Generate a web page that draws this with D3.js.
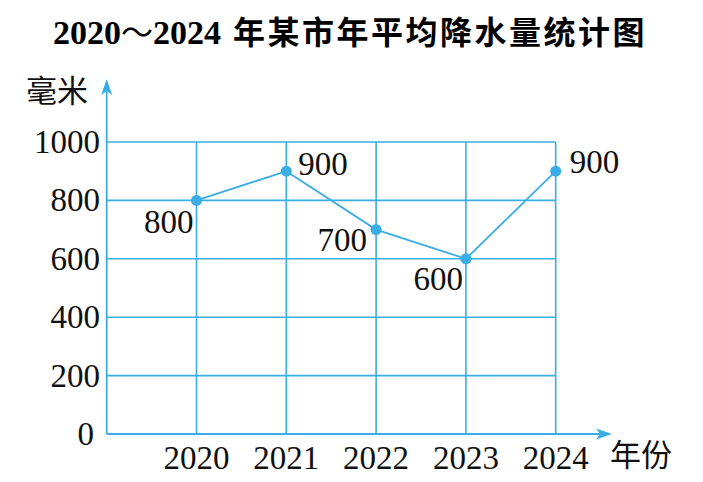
<!DOCTYPE html>
<html lang="zh">
<head>
  <meta charset="UTF-8">
  <title>2020～2024 年某市年平均降水量统计图</title>
  <script src="https://d3js.org/d3.v7.min.js"></script>
  <style>
    body { margin: 0; background: #fff; }
    .num { font-family: "Liberation Serif", "Times New Roman", serif; font-size: 33px; fill: #111; }
    .cjk { font-family: "Noto Sans CJK SC", sans-serif; font-size: 31px; fill: #111; }
  </style>
</head>
<body>
  <svg id="svg" width="703" height="482"></svg>
  <script>
    const years = ["2020", "2021", "2022", "2023", "2024"];
    const rainfall = [800, 900, 700, 600, 900];
    const yTicks = [0, 200, 400, 600, 800, 1000];
    const titleParts = ["2020", "～", "2024", "年某市年平均降水量统计图"];
    const yLabel = "毫米";
    const xLabel = "年份";

    const blue = "#38ade6";
    const svg = d3.select("#svg");

    // index -1 is the y axis, so each year sits one step to the right
    const x = d3.scaleLinear().domain([-1, years.length - 1]).range([106.7, 555.7]);
    const y = d3.scaleLinear().domain([0, 1000]).range([434, 142]);

    // title: serif bold digits, CJK bold for the rest
    const title = svg.append("text").attr("x", 350).attr("y", 44).attr("text-anchor", "middle");
    const serifTitle = s => title.append("tspan")
      .attr("font-family", "Liberation Serif, serif").attr("font-weight", "bold")
      .attr("font-size", 34).text(s);
    const cjkTitle = (s, dx, ls) => title.append("tspan")
      .attr("font-family", "Noto Sans CJK SC, sans-serif").attr("font-weight", "bold")
      .attr("font-size", 32).attr("letter-spacing", ls).attr("dx", dx).text(s);
    serifTitle(titleParts[0]);
    cjkTitle(titleParts[1], 0, 0).attr("font-weight", "normal");
    serifTitle(titleParts[2]);
    cjkTitle(titleParts[3], 12, 2.5);

    // grid
    svg.append("g").selectAll("line").data(yTicks.filter(d => d > 0)).join("line")
      .attr("x1", x(-1)).attr("x2", x(years.length - 1))
      .attr("y1", d => y(d)).attr("y2", d => y(d))
      .attr("stroke", blue).attr("stroke-width", 1.6);
    svg.append("g").selectAll("line").data(years).join("line")
      .attr("x1", (d, i) => x(i)).attr("x2", (d, i) => x(i))
      .attr("y1", y(0)).attr("y2", y(1000))
      .attr("stroke", blue).attr("stroke-width", 1.6);

    // axes with arrows
    svg.append("line").attr("x1", x(-1)).attr("x2", x(-1)).attr("y1", y(0)).attr("y2", 88)
      .attr("stroke", blue).attr("stroke-width", 1.8);
    svg.append("path")
      .attr("d", `M${x(-1)},79 L${x(-1) - 5.5},95 L${x(-1)},91 L${x(-1) + 5.5},95 Z`)
      .attr("fill", blue);
    svg.append("line").attr("x1", x(-1)).attr("x2", 604).attr("y1", y(0)).attr("y2", y(0))
      .attr("stroke", blue).attr("stroke-width", 1.8);
    svg.append("path")
      .attr("d", `M612,${y(0)} L596,${y(0) - 5.5} L600,${y(0)} L596,${y(0) + 5.5} Z`)
      .attr("fill", blue);

    // tick labels
    svg.append("g").selectAll("text").data(yTicks).join("text")
      .attr("class", "num").attr("text-anchor", "end")
      .attr("x", d => d === 0 ? 94 : 100).attr("y", d => y(d) + 11)
      .text(d => d);
    svg.append("g").selectAll("text").data(years).join("text")
      .attr("class", "num").attr("text-anchor", "middle")
      .attr("x", (d, i) => x(i)).attr("y", 469)
      .text(d => d);

    svg.append("text").attr("class", "cjk").attr("x", 26).attr("y", 102).text(yLabel);
    svg.append("text").attr("class", "cjk").attr("x", 610).attr("y", 466).text(xLabel);

    // line + points
    const line = d3.line().x((d, i) => x(i)).y(d => y(d));
    svg.append("path").datum(rainfall).attr("d", line)
      .attr("fill", "none").attr("stroke", blue).attr("stroke-width", 1.8);
    svg.append("g").selectAll("circle").data(rainfall).join("circle")
      .attr("cx", (d, i) => x(i)).attr("cy", d => y(d)).attr("r", 5.5).attr("fill", blue);

    // value labels: side and offset per point
    const place = [
      { anchor: "end", dx: -3, dy: 33 },
      { anchor: "start", dx: 12, dy: 4 },
      { anchor: "end", dx: -9, dy: 21 },
      { anchor: "end", dx: -3, dy: 31 },
      { anchor: "start", dx: 14, dy: 2 }
    ];
    svg.append("g").selectAll("text").data(rainfall).join("text")
      .attr("class", "num")
      .attr("text-anchor", (d, i) => place[i].anchor)
      .attr("x", (d, i) => x(i) + place[i].dx)
      .attr("y", d => y(d)).attr("dy", (d, i) => place[i].dy)
      .text(d => d);
  </script>
</body>
</html>
